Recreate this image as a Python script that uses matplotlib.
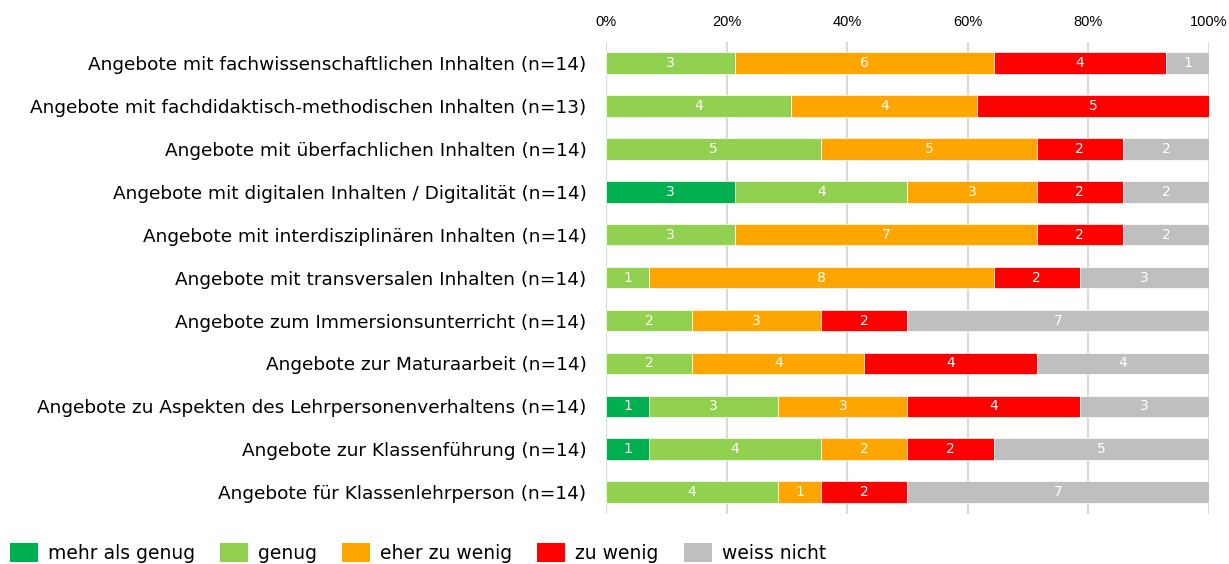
import matplotlib
matplotlib.use("Agg")
import matplotlib.pyplot as plt
from matplotlib.patches import Patch
import numpy as np

plt.rcParams['font.family'] = ['DejaVu Sans']

categories = [
    "Angebote mit fachwissenschaftlichen Inhalten (n=14)",
    "Angebote mit fachdidaktisch-methodischen Inhalten (n=13)",
    "Angebote mit überfachlichen Inhalten (n=14)",
    "Angebote mit digitalen Inhalten / Digitalität (n=14)",
    "Angebote mit interdisziplinären Inhalten (n=14)",
    "Angebote mit transversalen Inhalten (n=14)",
    "Angebote zum Immersionsunterricht (n=14)",
    "Angebote zur Maturaarbeit (n=14)",
    "Angebote zu Aspekten des Lehrpersonenverhaltens (n=14)",
    "Angebote zur Klassenführung (n=14)",
    "Angebote für Klassenlehrperson (n=14)",
]
series_names = ["mehr als genug", "genug", "eher zu wenig", "zu wenig", "weiss nicht"]
mehr_als_genug = [0, 0, 0, 3, 0, 0, 0, 0, 1, 1, 0]
genug = [3, 4, 5, 4, 3, 1, 2, 2, 3, 4, 4]
eher_zu_wenig = [6, 4, 5, 3, 7, 8, 3, 4, 3, 2, 1]
zu_wenig = [4, 5, 2, 2, 2, 2, 2, 4, 4, 2, 2]
weiss_nicht = [1, 0, 2, 2, 2, 3, 7, 4, 3, 5, 7]
colors = ["#00b050", "#92d050", "#ffa500", "#ff0000", "#bfbfbf"]

counts = np.array([mehr_als_genug, genug, eher_zu_wenig, zu_wenig, weiss_nicht], dtype=float)
totals = counts.sum(axis=0)
shares = counts / totals

fig = plt.figure(figsize=(12.29, 5.64), dpi=100)
ax = fig.add_axes([0.493, 0.0895, 0.4907, 0.8365])

y = np.arange(len(categories))
left = np.zeros(len(categories))
for i, name in enumerate(series_names):
    ax.barh(y, shares[i], left=left, height=0.5, color=colors[i],
            edgecolor="white", linewidth=0.5, label=name, zorder=3)
    for j in range(len(categories)):
        if counts[i, j] > 0:
            ax.text(left[j] + shares[i, j] / 2, y[j], f"{int(counts[i, j])}",
                    ha="center", va="center", color="white", fontsize=10, zorder=4)
    left += shares[i]

ax.set_xlim(0, 1)
ax.set_ylim(len(categories) - 0.5, -0.5)
ax.set_xticks(np.linspace(0, 1, 6))
ax.set_xticklabels([f"{int(v)}%" for v in np.linspace(0, 100, 6)],
                   fontsize=10.5, family=['Liberation Sans', 'DejaVu Sans'])
ax.xaxis.tick_top()
ax.set_yticks(y)
ax.set_yticklabels(categories, fontsize=13.3)
ax.tick_params(axis="both", length=0)
ax.tick_params(axis="y", pad=14)
ax.tick_params(axis="x", pad=9.5)
ax.grid(axis="x", color="#d9d9d9", linewidth=1.5, zorder=0)
for s in ax.spines.values():
    s.set_visible(False)

handles = [Patch(facecolor=c, label=n) for c, n in zip(colors, series_names)]
fig.legend(handles=handles, loc="center left", bbox_to_anchor=(0.002, 0.019), ncol=5,
           frameon=False, fontsize=13.5, handlelength=1.5, handleheight=1.15,
           handletextpad=0.53, columnspacing=1.33, borderaxespad=0)

fig.savefig("out.png", dpi=100)
